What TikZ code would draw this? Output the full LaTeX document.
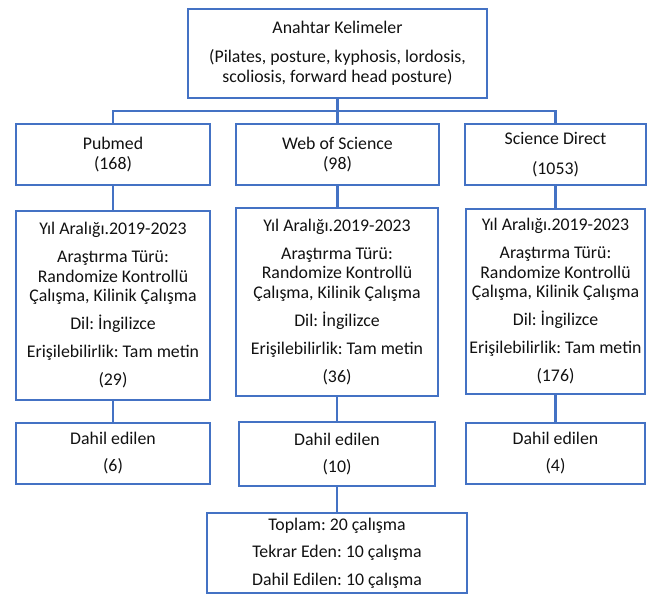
\documentclass[tikz,border=0pt]{standalone}
\usepackage{fontspec}
\setmainfont{Carlito}
\frenchspacing
\definecolor{boxblue}{HTML}{4472C4}
\definecolor{txt}{HTML}{111111}
\tikzset{
  box/.style={draw=boxblue, line width=2.3pt, align=center, inner sep=0pt, text=txt,
    font=\fontsize{17.8pt}{19.5pt}\selectfont},
  conn/.style={draw=boxblue, line width=2.3pt},
}
\begin{document}
\begin{tikzpicture}[x=1pt,y=-1pt]
\useasboundingbox (0,0) rectangle (653,595);
% top
\node[box, minimum width=299pt, minimum height=89pt] (top) at (337.5,53.5)
  {Anahtar Kelimeler\\[9.5pt](Pilates, posture, kyphosis, lordosis,\\scoliosis, forward head posture)};
% databases
\node[box, minimum width=194pt, minimum height=61pt] (pub) at (113,154.5) {Pubmed\\(168)};
\node[box, minimum width=203pt, minimum height=61pt] (wos) at (337.5,154.5) {Web of Science\\(98)};
\node[box, minimum width=181pt, minimum height=61pt] (sd) at (555.5,154.5) {Science Direct\\[10pt](1053)};
% filters
\node[box, minimum width=194pt, minimum height=189pt] (pubm) at (113,305.5)
  {Yıl Aralığı.2019-2023\\[8.5pt]Araştırma Türü:\\Randomize Kontrollü\\Çalışma, Kilinik Çalışma\\[8.5pt]Dil: İngilizce\\[8.5pt]Erişilebilirlik: Tam metin\\[8.5pt](29)};
\node[box, minimum width=202pt, minimum height=188pt] (wosm) at (337,302)
  {Yıl Aralığı.2019-2023\\[8.5pt]Araştırma Türü:\\Randomize Kontrollü\\Çalışma, Kilinik Çalışma\\[8.5pt]Dil: İngilizce\\[8.5pt]Erişilebilirlik: Tam metin\\[8.5pt](36)};
\node[box, minimum width=179pt, minimum height=185pt] (sdm) at (555.5,301.5)
  {Yıl Aralığı.2019-2023\\[8.5pt]Araştırma Türü:\\Randomize Kontrollü\\Çalışma, Kilinik Çalışma\\[8.5pt]Dil: İngilizce\\[8.5pt]Erişilebilirlik: Tam metin\\[8.5pt](176)};
% included
\node[box, minimum width=194pt, minimum height=61pt] (pubd) at (113,453.5) {Dahil edilen\\[7.5pt](6)};
\node[box, minimum width=196pt, minimum height=64pt] (wosd) at (337,454) {Dahil edilen\\[7.5pt](10)};
\node[box, minimum width=179pt, minimum height=61pt] (sdd) at (555.5,453.5) {Dahil edilen\\[7.5pt](4)};
% total
\node[box, minimum width=260pt, minimum height=80pt] (tot) at (337,553)
  {Toplam: 20 çalışma\\[8pt]Tekrar Eden: 10 çalışma\\[8pt]Dahil Edilen: 10 çalışma};
% connectors
\coordinate (bus) at (337.5,111);
\draw[conn] (top.south) -- (bus);
\draw[conn] (pub.north) |- (bus) -| (sd.north);
\draw[conn] (bus) -- (wos.north);
\draw[conn] (pub.south) -- (pubm.north);
\draw[conn] (wos.south) -- (wos.south |- wosm.north);
\draw[conn] (sd.south) -- (sdm.north);
\draw[conn] (pubm.south) -- (pubd.north);
\draw[conn] (wosm.south) -- (wosd.north);
\draw[conn] (sdm.south) -- (sdd.north);
\draw[conn] (wosd.south) -- (tot.north);
\end{tikzpicture}
\end{document}
